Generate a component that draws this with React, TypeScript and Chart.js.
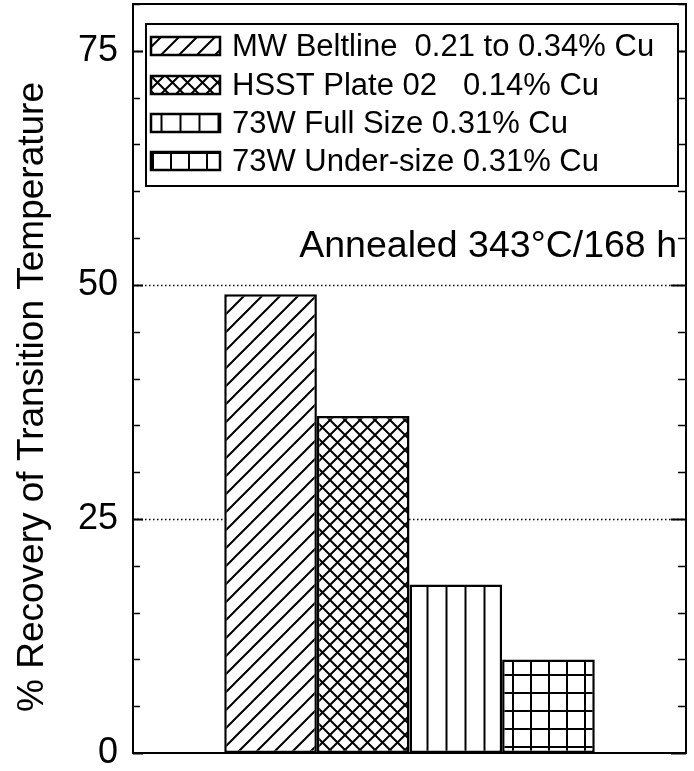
import React, { useEffect, useRef } from "react";
import { Chart, registerables } from "chart.js";

Chart.register(...registerables);

const categories = [""];
const seriesLabels = [
  "MW Beltline  0.21 to 0.34% Cu",
  "HSST Plate 02   0.14% Cu",
  "73W Full Size 0.31% Cu",
  "73W Under-size 0.31% Cu",
];
const recoveryValues = [49, 36, 18, 10];
const patternKinds = ["diag", "cross", "vert", "grid"];
const yLabelValues = [0, 25, 50, 75];
const yTitle = "% Recovery of Transition Temperature";
const annotationText = "Annealed 343°C/168 h";

const FONT = '"Liberation Sans", Arial, sans-serif';

function makePattern(kind: string): CanvasPattern | string {
  const s = kind === "diag" ? 18 : kind === "cross" ? 15 : kind === "vert" ? 19 : 18;
  const c = document.createElement("canvas");
  c.width = s;
  c.height = s;
  const g = c.getContext("2d");
  if (!g) return "#fff";
  g.fillStyle = "#fff";
  g.fillRect(0, 0, s, s);
  g.strokeStyle = "#000";
  g.lineWidth = 2;
  g.beginPath();
  if (kind === "diag" || kind === "cross") {
    g.moveTo(-2, s + 2);
    g.lineTo(s + 2, -2);
    g.moveTo(-2, 2);
    g.lineTo(2, -2);
    g.moveTo(s - 2, s + 2);
    g.lineTo(s + 2, s - 2);
  }
  if (kind === "cross") {
    g.moveTo(-2, -2);
    g.lineTo(s + 2, s + 2);
    g.moveTo(s - 2, -2);
    g.lineTo(s + 2, 2);
    g.moveTo(-2, s - 2);
    g.lineTo(2, s + 2);
  }
  if (kind === "vert" || kind === "grid") {
    g.moveTo(s / 2, 0);
    g.lineTo(s / 2, s);
  }
  if (kind === "grid") {
    g.moveTo(0, s / 2);
    g.lineTo(s, s / 2);
  }
  g.stroke();
  const p = g.createPattern(c, "repeat");
  return p || "#fff";
}

const decorPlugin = {
  id: "decor",
  beforeDatasetsDraw(chart: any) {
    const { ctx, chartArea } = chart;
    const y = chart.scales.y;
    ctx.save();
    ctx.strokeStyle = "#000";
    ctx.lineWidth = 1.3;
    ctx.setLineDash([1.5, 2.5]);
    for (const v of yLabelValues) {
      if (v === 0) continue;
      const py = Math.round(y.getPixelForValue(v)) + 0.5;
      ctx.beginPath();
      ctx.moveTo(chartArea.left, py);
      ctx.lineTo(chartArea.right, py);
      ctx.stroke();
    }
    ctx.restore();
  },
  afterDatasetsDraw(chart: any) {
    const { ctx, chartArea } = chart;
    const y = chart.scales.y;
    ctx.save();
    ctx.strokeStyle = "#000";
    ctx.setLineDash([]);
    ctx.lineWidth = 2;
    ctx.strokeRect(chartArea.left, chartArea.top, chartArea.right - chartArea.left, chartArea.bottom - chartArea.top);
    for (const t of y.ticks) {
      const v = t.value;
      const major = v % 25 === 0;
      const py = Math.round(y.getPixelForValue(v)) + 0.5;
      ctx.lineWidth = major ? 2 : 1.5;
      ctx.beginPath();
      ctx.moveTo(chartArea.left, py);
      ctx.lineTo(chartArea.left + (major ? 10 : 7), py);
      ctx.moveTo(chartArea.right, py);
      ctx.lineTo(chartArea.right - (major ? 15 : 8), py);
      ctx.stroke();
    }
    // y-axis title
    ctx.save();
    ctx.translate(33, 397);
    ctx.rotate(-Math.PI / 2);
    ctx.font = `37px ${FONT}`;
    ctx.textAlign = "center";
    ctx.textBaseline = "middle";
    ctx.fillStyle = "#000";
    ctx.fillText(yTitle, 0, 0);
    ctx.restore();
    ctx.restore();
  },
  afterDraw(chart: any) {
    const { ctx } = chart;
    const datasets = chart.data.datasets;
    ctx.save();
    const bx = 146, by = 24, bw = 532, bh = 162;
    ctx.fillStyle = "#fff";
    ctx.fillRect(bx, by, bw, bh);
    ctx.strokeStyle = "#000";
    ctx.lineWidth = 2;
    ctx.strokeRect(bx, by, bw, bh);
    const rows = [46, 85, 123, 161];
    ctx.font = `31px ${FONT}`;
    ctx.textBaseline = "middle";
    ctx.textAlign = "left";
    datasets.forEach((ds: any, i: number) => {
      const cy = rows[i];
      ctx.fillStyle = ds.backgroundColor;
      ctx.fillRect(151, cy - 9, 69, 18);
      ctx.lineWidth = 2.5;
      ctx.strokeStyle = "#000";
      ctx.strokeRect(151, cy - 9, 69, 18);
      ctx.fillStyle = "#000";
      ctx.fillText(ds.label, 232, cy + 1);
    });
    ctx.font = `37.5px ${FONT}`;
    ctx.textAlign = "right";
    ctx.fillStyle = "#000";
    ctx.fillText(annotationText, 677, 247);
    ctx.restore();
  },
};

export default function App() {
  const ref = useRef<HTMLCanvasElement>(null);
  useEffect(() => {
    if (!ref.current) return;
    const datasets = seriesLabels.map((label, i) => ({
      label,
      data: [recoveryValues[i]],
      backgroundColor: makePattern(patternKinds[i]) as any,
      borderColor: "#000",
      borderWidth: 2.5,
      borderSkipped: false as any,
      categoryPercentage: 0.67,
      barPercentage: 1.0,
    }));
    const chart = new Chart(ref.current, {
      type: "bar",
      data: { labels: categories, datasets },
      options: {
        responsive: false,
        animation: false,
        layout: { padding: { left: 0, top: 4, right: 8, bottom: 18 } },
        plugins: { legend: { display: false }, tooltip: { enabled: false }, title: { display: false } },
        scales: {
          x: { display: false },
          y: {
            min: 0,
            max: 80,
            grid: { display: false, drawTicks: false },
            border: { display: false },
            afterFit: (s: any) => {
              s.width = 133;
              s.paddingTop = 0;
              s.paddingBottom = 0;
            },
            ticks: {
              stepSize: 5,
              autoSkip: false,
              padding: 15,
              color: "#000",
              font: { family: FONT, size: 36 },
              callback: (v: any) => (yLabelValues.includes(Number(v)) ? String(v) : ""),
            },
            title: { display: false, text: yTitle },
          },
        },
      },
      plugins: [decorPlugin],
    });
    return () => chart.destroy();
  }, []);
  return (
    <div style={{ position: "absolute", left: 0, top: 0, width: 694, height: 771, background: "#fff" }}>
      <canvas ref={ref} width={694} height={771} />
    </div>
  );
}
